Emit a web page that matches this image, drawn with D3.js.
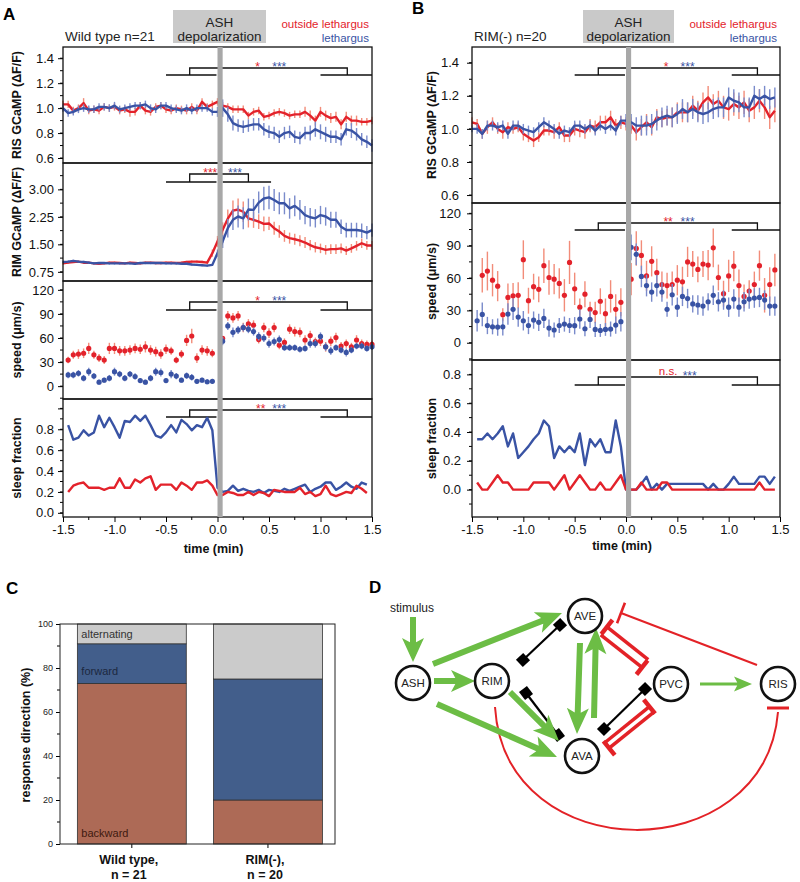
<!DOCTYPE html>
<html><head><meta charset="utf-8">
<script src="https://cdn.jsdelivr.net/npm/d3@7"></script>
<style>body{margin:0;background:#fff}svg{display:block}text{font-family:"Liberation Sans",Arial,sans-serif}</style>
</head><body><svg id="c" width="800" height="882"></svg>
<script>
// ---------- time grids ----------
const tLine = d3.range(61).map(i => +(-1.5 + i * 0.05).toFixed(2));
const tPre = d3.range(29).map(i => +(-1.45 + i * 0.05).toFixed(2));
const tPost = d3.range(30).map(i => +(0.05 + i * 0.05).toFixed(2));
const tDots = tPre.concat(tPost);
const tSleep = d3.range(59).map(i => +(-1.45 + i * 0.05).toFixed(2));

// ---------- Panel A data ----------
const A_RIS_red = [1.03,1.03,0.98,1.00,1.04,0.98,0.99,0.98,1.01,1.00,1.01,0.98,0.99,0.97,0.97,1.02,0.98,0.97,1.01,1.02,0.99,0.98,1.00,0.99,0.98,1.01,0.98,1.05,1.01,1.03,1.05,1.02,1.01,0.99,0.99,0.99,0.94,0.97,0.98,0.93,0.94,0.96,0.97,0.96,0.94,0.95,0.95,0.97,0.94,0.90,0.97,0.94,0.92,0.93,0.87,0.93,0.90,0.90,0.89,0.89,0.90];
const A_RIS_red_err = [0.03,0.03,0.03,0.03,0.04,0.03,0.03,0.03,0.03,0.03,0.03,0.03,0.03,0.04,0.03,0.03,0.03,0.03,0.03,0.03,0.03,0.03,0.03,0.03,0.03,0.03,0.03,0.03,0.03,0.03,0.03,0.03,0.03,0.03,0.03,0.03,0.03,0.03,0.03,0.03,0.03,0.03,0.03,0.03,0.03,0.03,0.03,0.04,0.04,0.04,0.04,0.04,0.04,0.04,0.04,0.04,0.04,0.04,0.03,0.03,0.03];
const A_RIS_blue = [1.00,0.96,0.97,0.99,1.00,0.99,0.99,1.01,1.01,1.00,1.02,0.99,1.00,1.01,1.02,1.02,1.03,1.00,0.99,1.02,1.02,1.00,0.99,0.98,1.00,0.98,1.00,1.00,1.00,0.97,0.97,1.00,0.95,0.88,0.86,0.85,0.86,0.87,0.87,0.83,0.81,0.80,0.77,0.80,0.81,0.77,0.76,0.80,0.80,0.83,0.81,0.79,0.77,0.77,0.75,0.83,0.82,0.79,0.75,0.73,0.70];
const A_RIS_blue_err = [0.03,0.03,0.03,0.03,0.03,0.03,0.03,0.03,0.03,0.03,0.03,0.03,0.03,0.03,0.03,0.03,0.03,0.03,0.03,0.03,0.03,0.03,0.03,0.03,0.03,0.03,0.03,0.03,0.03,0.03,0.04,0.07,0.06,0.06,0.05,0.05,0.05,0.05,0.05,0.05,0.05,0.05,0.05,0.05,0.05,0.05,0.05,0.05,0.06,0.06,0.06,0.06,0.05,0.05,0.05,0.05,0.06,0.05,0.05,0.05,0.05];
const A_RIM_red = [0.98,1.00,1.02,1.03,1.00,1.00,0.98,0.97,0.98,1.00,1.00,0.99,0.98,1.00,0.99,0.98,1.00,1.00,0.99,0.99,1.00,1.00,0.99,1.00,1.02,1.03,1.03,1.02,1.00,1.26,1.58,1.90,2.20,2.42,2.45,2.39,2.21,2.17,2.12,2.06,2.07,1.94,1.85,1.73,1.67,1.64,1.60,1.55,1.48,1.42,1.39,1.35,1.37,1.37,1.39,1.33,1.39,1.46,1.53,1.47,1.47];
const A_RIM_red_err = [0.03,0.03,0.03,0.03,0.03,0.03,0.03,0.03,0.03,0.03,0.03,0.03,0.03,0.03,0.03,0.03,0.03,0.03,0.03,0.03,0.03,0.03,0.03,0.03,0.03,0.03,0.03,0.03,0.03,0.10,0.15,0.20,0.25,0.28,0.30,0.28,0.25,0.22,0.20,0.20,0.18,0.18,0.17,0.16,0.15,0.15,0.15,0.15,0.14,0.14,0.13,0.13,0.13,0.13,0.13,0.12,0.12,0.13,0.13,0.12,0.12];
const A_RIM_blue = [1.02,1.03,1.05,1.03,1.02,1.00,0.98,0.99,0.99,0.98,0.98,0.98,0.98,0.98,0.97,0.99,0.99,0.99,0.99,0.99,0.98,0.98,0.98,0.97,0.97,0.95,0.94,0.93,0.92,0.94,1.26,1.58,1.94,2.17,2.26,2.21,2.45,2.44,2.64,2.75,2.78,2.71,2.62,2.62,2.48,2.55,2.44,2.30,2.24,2.21,2.30,2.26,2.17,2.17,1.98,1.89,1.89,1.89,1.87,1.82,1.89];
const A_RIM_blue_err = [0.03,0.03,0.03,0.03,0.03,0.03,0.03,0.03,0.03,0.03,0.03,0.03,0.03,0.03,0.03,0.03,0.03,0.03,0.03,0.03,0.03,0.03,0.03,0.03,0.03,0.03,0.03,0.03,0.03,0.03,0.10,0.18,0.25,0.28,0.30,0.30,0.30,0.30,0.30,0.32,0.32,0.30,0.30,0.30,0.28,0.28,0.27,0.25,0.25,0.25,0.25,0.25,0.22,0.22,0.20,0.20,0.20,0.20,0.20,0.18,0.18];
const A_speed_red = [32.5,39,40,41,47,39,35,32.5,47,47,44,44,45,47,46,49,45,43,40,46,44,32.5,40,57,62.5,35,45,44,41,
  59.5,87.5,85,87.5,73,77.5,76,58,73,66,73,51,54.5,71,68,67,57.5,63,55.5,56,49,56,60.5,50,53,49,57.5,53,52,52];
const A_speed_red_err = [4,5,6,6,7,5,5,5,7,7,6,6,6,6,6,7,6,6,6,6,5,4,5,7,9,6,6,6,5,
  3,6,6,6,6,6,6,5,6,6,6,5,5,6,6,6,6,6,5,6,6,6,6,5,5,5,6,5,5,5];
const A_speed_blue = [14,14,16,10,18,12.5,5,7.5,10,18,15,10,15,12,7,5,10,18,17,7,15,12.5,7.5,13,11,6,7.5,5.5,6,
  56,75,67,70,73,71,68,62,60,53,55.5,58,48,48,48,46,47,53,53,62,49,44,48,45,42,45,50,50,47,49];
const A_speed_blue_err = [4,4,4,4,5,4,3,3,4,5,4,4,4,4,3,3,4,5,5,3,5,4,3,4,4,3,3,3,3,
  5,5,6,5,5,5,5,5,5,5,5,5,4,4,4,4,4,5,5,5,5,5,4,4,5,4,4,4,4,4];
const A_sleep_blue = [0.84,0.70,0.72,0.79,0.74,0.77,0.93,0.82,0.91,0.82,0.72,0.88,0.87,0.93,0.88,0.93,0.84,0.74,0.72,0.77,0.84,0.77,0.89,0.85,0.79,0.84,0.82,0.91,0.79,
  0.24,0.20,0.21,0.26,0.21,0.23,0.21,0.20,0.22,0.19,0.22,0.21,0.20,0.23,0.21,0.23,0.25,0.27,0.20,0.23,0.25,0.29,0.29,0.22,0.25,0.29,0.25,0.23,0.29,0.27];
const A_sleep_red = [0.20,0.26,0.28,0.29,0.24,0.24,0.24,0.22,0.24,0.24,0.33,0.24,0.24,0.32,0.29,0.33,0.35,0.22,0.27,0.27,0.27,0.22,0.29,0.26,0.22,0.29,0.29,0.31,0.26,
  0.17,0.17,0.20,0.19,0.17,0.17,0.20,0.17,0.20,0.19,0.16,0.22,0.21,0.20,0.20,0.20,0.24,0.18,0.20,0.16,0.18,0.26,0.18,0.16,0.18,0.20,0.19,0.26,0.23,0.19];

// ---------- Panel B data ----------
const B_RIS_red = [1.04,1.03,0.97,1.01,1.04,1.00,0.98,1.01,1.00,1.01,0.97,0.95,0.93,0.95,0.99,0.99,0.98,1.01,0.96,0.96,1.00,0.99,0.98,1.02,1.01,1.04,1.04,1.07,1.02,1.04,1.03,
  1.02,0.98,1.01,1.04,1.01,1.07,1.06,1.07,1.07,1.10,1.10,1.10,1.14,1.11,1.16,1.19,1.15,1.17,1.13,1.12,1.15,1.13,1.16,1.11,1.13,1.17,1.13,1.07,1.11,null];
const B_RIS_red_err = [0.03,0.03,0.03,0.04,0.03,0.03,0.04,0.03,0.03,0.03,0.04,0.03,0.04,0.03,0.03,0.03,0.04,0.03,0.04,0.04,0.04,0.04,0.04,0.04,0.04,0.04,0.04,0.04,0.04,0.04,0.04,
  0.05,0.05,0.05,0.05,0.05,0.05,0.05,0.05,0.06,0.06,0.06,0.06,0.06,0.06,0.06,0.07,0.06,0.06,0.07,0.07,0.07,0.07,0.07,0.07,0.07,0.07,0.07,0.07,0.07,0];
const B_RIS_blue = [1.00,1.00,0.97,1.02,1.02,1.01,1.02,0.97,1.02,1.02,1.00,0.99,0.98,1.01,1.04,1.02,1.00,0.97,0.99,0.98,1.02,1.02,1.00,1.02,0.99,1.02,1.00,1.02,0.99,1.05,1.05,
  1.04,1.02,1.02,1.02,1.03,1.05,1.07,1.08,1.07,1.09,1.12,1.10,1.12,1.10,1.09,1.10,1.12,1.13,1.13,1.19,1.17,1.16,1.13,1.13,1.20,1.18,1.20,1.18,1.19,null];
const B_RIS_blue_err = [0.02,0.03,0.03,0.03,0.03,0.03,0.03,0.03,0.03,0.03,0.03,0.03,0.03,0.03,0.03,0.03,0.03,0.03,0.03,0.03,0.03,0.03,0.03,0.03,0.03,0.03,0.03,0.03,0.03,0.03,0.04,
  0.05,0.05,0.06,0.06,0.06,0.06,0.06,0.06,0.06,0.06,0.06,0.06,0.06,0.06,0.06,0.06,0.06,0.06,0.06,0.06,0.07,0.06,0.06,0.06,0.06,0.06,0.06,0.06,0.06,0];
const B_speed_red = [null,62.5,66.5,58,52.5,26,42,43.5,44,77,39,52,49.5,71.5,60.5,59,55,44,74.5,50,33,45,31,28,38.5,27,43,31,37.5,
  59,87.5,81,62,75.5,65,54,53,54,58,56.5,75,73,68,73,72,88,60.5,45.5,62,71,53,43,48,54,71.5,44,54,67.5,null];
const B_speed_red_err = [0,16,18,15,14,6,13,12,12,18,12,12,12,16,16,14,14,15,20,15,8,12,7,10,12,14,15,14,13,
  15,16,14,14,14,13,12,12,12,14,14,14,12,12,12,14,18,12,12,15,14,15,11,10,12,14,16,16,15,0];
const B_speed_blue = [20.4,26.3,16,14.8,14.5,14.8,26.6,31,23.8,20.4,16,21,18.9,22.6,13.6,11.8,16,17.3,16,15.8,22,13,21.6,12.4,11.4,12.4,12.7,16.4,19.5,
  88.5,82,61.5,53,47,53,47,31,44.5,33,43,41,36,35,34,38,44,38,39.6,33,40.5,33,38,40.5,41.4,42,39.6,34,34,null];
const B_speed_blue_err = [10,11,8,7,8,8,10,10,9,9,8,8,8,9,8,7,7,7,7,8,9,7,8,7,6,6,7,8,9,
  12,10,10,10,9,10,9,7,10,9,9,9,8,9,9,8,9,9,9,9,9,9,9,9,9,9,9,9,9,0];
const B_sleep_blue = [0.35,0.35,0.39,0.35,0.39,0.44,0.30,0.39,0.22,0.26,0.30,0.35,0.39,0.48,0.44,0.22,0.30,0.26,0.30,0.26,0.39,0.17,0.35,0.30,0.35,0.26,0.26,0.48,0.30,
  0.00,0.00,0.00,0.04,0.09,0.00,0.04,0.00,0.04,0.04,0.04,0.04,0.04,0.04,0.04,0.04,0.00,0.04,0.00,0.00,0.04,0.09,0.04,0.04,0.04,0.04,0.09,0.09,0.04,0.09];
const B_sleep_red = [0.05,0,0,0.05,0.10,0.05,0.05,0,0,0,0,0.05,0.05,0.05,0.05,0,0.05,0.10,0,0.05,0.10,0.05,0,0,0.05,0,0,0.05,0.10,
  0,0,0,0.05,0,0,0,0.05,0.05,0,0,0,0,0,0,0,0,0,0,0,0,0,0,0,0,0,0.05,0,0,0];

// ---------- Panel C data ----------
const cCategories = ["Wild type", "RIM(-)"];
const cLabels = [["Wild type,", "n = 21"], ["RIM(-),", "n = 20"]];
const cBackward = [73, 20];
const cForward = [18, 55];
const cAlternating = [9, 25];
const cYTicks = [0, 20, 40, 60, 80, 100];

// ---------- Panel D (network) ----------
const dNodes = ["ASH", "RIM", "AVE", "AVA", "PVC", "RIS"];

// ---------- colours ----------
const RED = "#e3222b", BLUE = "#3953a4", RED_E = "#f28c79", BLUE_E = "#7a8bcb";
const GREEN = "#6cbd45", INH = "#e32227";

const svg = d3.select("#c");
const xA = d3.scaleLinear().domain([-1.5, 1.5]).range([63, 372]);
const xB = d3.scaleLinear().domain([-1.5, 1.5]).range([472, 780]);

function panel(p) {
  const x = p.x, X0 = x.range()[0], X1 = x.range()[1];
  const y = d3.scaleLinear().domain(p.domain).range([p.y1, p.y0]);
  const g = svg.append("g");
  const lo = p.domain[0], hi = p.domain[1];
  const minors = d3.range(Math.ceil(lo / p.minor - 1e-6), Math.floor(hi / p.minor + 1e-6) + 1).map(k => k * p.minor);
  g.selectAll(null).data(minors).join("line")
    .attr("x1", X0 - 3).attr("x2", X0).attr("y1", d => y(d)).attr("y2", d => y(d))
    .attr("stroke", "#000").attr("stroke-width", 1);
  const ax = g.append("g").attr("transform", `translate(${X0},0)`)
    .call(d3.axisLeft(y).tickValues(p.major).tickSize(5).tickPadding(p.pad || 4).tickFormat(p.fmt));
  ax.select(".domain").remove();
  ax.attr("font-family", null).attr("font-size", null);
  ax.selectAll("text").style("font-size", "13px").attr("fill", "#111");
  ax.selectAll("line").attr("stroke-width", 1);
  g.append("text").attr("transform", `translate(${p.labX},${(p.y0 + p.y1) / 2}) rotate(-90)`)
    .attr("text-anchor", "middle").style("font-size", "12.5px").style("font-weight", "bold").attr("fill", "#111").text(p.label);
  const plot = g.append("g");
  if (p.brk) {
    const b = p.brk, yt = p.y0 + b.top, yl = p.y0 + b.low;
    const path = `M${x(b.l[0])},${yl}H${x(b.l[1])}M${x(b.l[2])},${yl}V${yt}H${x(b.r[2])}V${yl}M${x(b.r[0])},${yl}H${x(b.r[1])}`;
    plot.append("path").attr("d", path).attr("fill", "none").attr("stroke", "#111").attr("stroke-width", 1.3);
    b.stars.forEach(s => {
      plot.append("text").attr("x", x(s.t)).attr("y", s.ns ? yt - 2 : yt + 2.5).attr("text-anchor", "middle")
        .style("font-size", s.ns ? "11.5px" : "12px").attr("fill", s.c).text(s.txt);
    });
  }
  p.series.forEach(s => {
    const pts = s.t.map((t, i) => ({ t, v: s.v[i], e: s.e ? s.e[i] : 0 })).filter(d => d.v != null);
    if (s.e) {
      plot.selectAll(null).data(pts.filter(d => d.e > 0)).join("line")
        .attr("x1", d => x(d.t)).attr("x2", d => x(d.t))
        .attr("y1", d => y(d.v - d.e)).attr("y2", d => y(d.v + d.e))
        .attr("stroke", s.ec).attr("stroke-width", 1.4);
    }
    if (s.kind === "line") {
      plot.append("path").datum(s.t.map((t, i) => [t, s.v[i]]))
        .attr("d", d3.line().defined(d => d[1] != null).x(d => x(d[0])).y(d => y(d[1])))
        .attr("fill", "none").attr("stroke", s.c).attr("stroke-width", 2.4).attr("stroke-linejoin", "round");
    } else {
      plot.selectAll(null).data(pts).join("circle")
        .attr("cx", d => x(d.t)).attr("cy", d => y(d.v)).attr("r", 2.6).attr("fill", s.c);
    }
  });
  g.append("rect").attr("x", X0).attr("y", p.y0).attr("width", X1 - X0).attr("height", p.y1 - p.y0)
    .attr("fill", "none").attr("stroke", "#111").attr("stroke-width", 1.3);
}

function column(x, spec) {
  spec.header(x);
  spec.panels.forEach(p => panel(Object.assign({ x }, p)));
  svg.append("rect").attr("x", x(0)).attr("y", 47).attr("width", x(0.05) - x(0)).attr("height", 517 - 47)
    .attr("fill", "#a8a8a8");
  const minorT = [-1.25, -0.75, -0.25, 0.25, 0.75, 1.25];
  svg.append("g").selectAll(null).data(minorT).join("line")
    .attr("x1", d => x(d)).attr("x2", d => x(d)).attr("y1", 517).attr("y2", 520).attr("stroke", "#000");
  const ax = svg.append("g").attr("transform", "translate(0,517)")
    .call(d3.axisBottom(x).tickValues([-1.5, -1, -0.5, 0, 0.5, 1, 1.5]).tickSize(5).tickPadding(3).tickFormat(d => d.toFixed(1)));
  ax.select(".domain").remove();
  ax.attr("font-family", null).attr("font-size", null);
  ax.selectAll("text").style("font-size", "13px").attr("fill", "#111");
  svg.append("text").attr("x", x(0) - 4).attr("y", spec.xlabY).attr("text-anchor", "middle")
    .style("font-size", "12.5px").style("font-weight", "bold").attr("fill", "#111").text("time (min)");
}

function header(letter, lx, ly, title, x, boxL, boxR) {
  svg.append("text").attr("x", lx).attr("y", ly).style("font-size", "17px").style("font-weight", "bold").text(letter);
  svg.append("rect").attr("x", boxL).attr("y", 10).attr("width", boxR - boxL).attr("height", 33).attr("fill", "#c9c9c9");
  svg.append("text").attr("x", (boxL + boxR) / 2).attr("y", 27).attr("text-anchor", "middle").style("font-size", "13.5px").attr("fill", "#222").text("ASH");
  svg.append("text").attr("x", (boxL + boxR) / 2).attr("y", 40.5).attr("text-anchor", "middle").style("font-size", "13.5px").attr("fill", "#222").text("depolarization");
  svg.append("text").attr("x", x.range()[0] + 2).attr("y", 40.5).style("font-size", "13.5px").attr("fill", "#222").text(title);
  svg.append("text").attr("x", x.range()[1] - 3).attr("y", 28).attr("text-anchor", "end").style("font-size", "11.5px").attr("fill", RED).text("outside lethargus");
  svg.append("text").attr("x", x.range()[1] - 3).attr("y", 41.5).attr("text-anchor", "end").style("font-size", "11.5px").attr("fill", BLUE).text("lethargus");
}

const f1 = d => d.toFixed(1), f2 = d => d.toFixed(2), f0 = d => d.toFixed(0);
const starsStd = (r) => [{ t: 0.39, txt: r, c: RED }, { t: 0.6, txt: "***", c: BLUE }];

column(xA, {
  header: x => header("A", 3, 20, "Wild type n=21", x, 173, 266),
  xlabY: 553,
  panels: [
    { y0: 47, y1: 163, domain: [0.56, 1.49], major: [0.6, 0.8, 1.0, 1.2, 1.4], minor: 0.1, fmt: f1, label: "RIS GCaMP (ΔF/F)", labX: 21,
      brk: { top: 21, low: 28, l: [-0.5, -0.01, -0.27], r: [1.0, 1.5, 1.26], stars: starsStd("*") },
      series: [
        { kind: "line", t: tLine, v: A_RIS_red, e: A_RIS_red_err, c: RED, ec: RED_E },
        { kind: "line", t: tLine, v: A_RIS_blue, e: A_RIS_blue_err, c: BLUE, ec: BLUE_E }] },
    { y0: 163, y1: 281, domain: [0.5, 3.72], major: [0.75, 1.5, 2.25, 3.0], minor: 0.375, fmt: f2, label: "RIM GCaMP (ΔF/F)", labX: 21,
      brk: { top: 11, low: 19, l: [-0.5, -0.01, -0.27], r: [0.05, 0.52, 0.3], stars: [{ t: -0.07, txt: "***", c: RED }, { t: 0.17, txt: "***", c: BLUE }] },
      series: [
        { kind: "line", t: tLine, v: A_RIM_red, e: A_RIM_red_err, c: RED, ec: RED_E },
        { kind: "line", t: tLine, v: A_RIM_blue, e: A_RIM_blue_err, c: BLUE, ec: BLUE_E }] },
    { y0: 281, y1: 399, domain: [-16, 131], major: [0, 30, 60, 90, 120], minor: 15, fmt: f0, label: "speed (μm/s)", labX: 21,
      brk: { top: 21, low: 29, l: [-0.5, -0.01, -0.27], r: [1.0, 1.5, 1.26], stars: starsStd("*") },
      series: [
        { kind: "dot", t: tDots, v: A_speed_red, e: A_speed_red_err, c: RED, ec: RED_E },
        { kind: "dot", t: tDots, v: A_speed_blue, e: A_speed_blue_err, c: BLUE, ec: BLUE_E }] },
    { y0: 399, y1: 517, domain: [-0.04, 1.09], major: [0, 0.2, 0.4, 0.6, 0.8, 1.0], minor: 0.1, fmt: d => d > 0.9 ? "" : d.toFixed(1), label: "sleep fraction", labX: 21,
      brk: { top: 11, low: 18, l: [-0.5, -0.01, -0.27], r: [1.0, 1.5, 1.26], stars: [{ t: 0.42, txt: "**", c: RED }, { t: 0.6, txt: "***", c: BLUE }] },
      series: [
        { kind: "line", t: tSleep, v: A_sleep_blue, c: BLUE },
        { kind: "line", t: tSleep, v: A_sleep_red, c: RED }] }
  ]
});

column(xB, {
  header: x => header("B", 412, 14, "RIM(-) n=20", x, 583, 674),
  xlabY: 550,
  panels: [
    { y0: 47, y1: 203, domain: [0.552, 1.495], major: [0.6, 0.8, 1.0, 1.2, 1.4], minor: 0.1, fmt: f1, label: "RIS GCaMP (ΔF/F)", labX: 436, pad: 8,
      brk: { top: 21, low: 28, l: [-0.5, -0.01, -0.27], r: [1.03, 1.5, 1.28], stars: starsStd("*") },
      series: [
        { kind: "line", t: tLine, v: B_RIS_red, e: B_RIS_red_err, c: RED, ec: RED_E },
        { kind: "line", t: tLine, v: B_RIS_blue, e: B_RIS_blue_err, c: BLUE, ec: BLUE_E }] },
    { y0: 203, y1: 360, domain: [-16, 129.6], major: [0, 30, 60, 90, 120], minor: 15, fmt: f0, label: "speed (μm/s)", labX: 436, pad: 6,
      brk: { top: 20, low: 27, l: [-0.5, -0.01, -0.27], r: [1.03, 1.5, 1.28], stars: [{ t: 0.41, txt: "**", c: RED }, { t: 0.6, txt: "***", c: BLUE }] },
      series: [
        { kind: "dot", t: tDots, v: B_speed_red, e: B_speed_red_err, c: RED, ec: RED_E },
        { kind: "dot", t: tDots, v: B_speed_blue, e: B_speed_blue_err, c: BLUE, ec: BLUE_E }] },
    { y0: 360, y1: 517, domain: [-0.19, 0.9], major: [0, 0.2, 0.4, 0.6, 0.8], minor: 0.1, fmt: f1, label: "sleep fraction", labX: 436, pad: 6,
      brk: { top: 17, low: 25, l: [-0.5, -0.01, -0.27], r: [1.03, 1.5, 1.28], stars: [{ t: 0.41, txt: "n.s.", c: RED, ns: true }, { t: 0.62, txt: "***", c: BLUE }] },
      series: [
        { kind: "line", t: tSleep, v: B_sleep_blue, c: BLUE },
        { kind: "line", t: tSleep, v: B_sleep_red, c: RED }] }
  ]
});

// ---------- Panel C ----------
(function () {
  svg.append("text").attr("x", 6).attr("y", 594).style("font-size", "17px").style("font-weight", "bold").text("C");
  const x = d3.scaleBand().domain(cCategories).range([60, 335]).paddingInner(0.2).paddingOuter(0.11).align(0.58);
  const y = d3.scaleLinear().domain([0, 100]).range([844, 624]);
  const rows = cCategories.map((c, i) => ({ cat: c, backward: cBackward[i], forward: cForward[i], alternating: cAlternating[i] }));
  const keys = ["backward", "forward", "alternating"];
  const col = { backward: "#ad6a56", forward: "#425e8b", alternating: "#cbcbcb" };
  const stack = d3.stack().keys(keys)(rows);
  const g = svg.append("g");
  stack.forEach(layer => {
    g.selectAll(null).data(layer).join("rect")
      .attr("x", d => x(d.data.cat)).attr("width", x.bandwidth())
      .attr("y", d => y(d[1])).attr("height", d => y(d[0]) - y(d[1]))
      .attr("fill", col[layer.key]).attr("stroke", "#333").attr("stroke-width", 0.8);
  });
  const bx = x(cCategories[0]) + 4;
  g.append("text").attr("x", bx).attr("y", y(100) + 14).style("font-size", "11px").attr("fill", "#333").text("alternating");
  g.append("text").attr("x", bx).attr("y", y(cBackward[0]) - 8).style("font-size", "11px").attr("fill", "#1c2840").text("forward");
  g.append("text").attr("x", bx).attr("y", y(0) - 7).style("font-size", "11px").attr("fill", "#40190f").text("backward");
  g.selectAll(null).data(d3.range(10, 100, 20)).join("line")
    .attr("x1", 57).attr("x2", 60).attr("y1", d => y(d)).attr("y2", d => y(d)).attr("stroke", "#000");
  const ay = g.append("g").attr("transform", "translate(60,0)").call(d3.axisLeft(y).tickValues(cYTicks).tickSize(4).tickPadding(3));
  ay.select(".domain").remove();
  ay.attr("font-family", null).attr("font-size", null);
  ay.selectAll("text").style("font-size", "9px").attr("fill", "#222");
  const ax = g.append("g").attr("transform", "translate(0,844)").call(d3.axisBottom(x).tickSize(4).tickFormat(""));
  ax.select(".domain").remove();
  g.append("rect").attr("x", 60).attr("y", 624).attr("width", 275).attr("height", 220).attr("fill", "none").attr("stroke", "#222").attr("stroke-width", 1);
  cCategories.forEach((c, i) => {
    const cx = x(c) + x.bandwidth() / 2 - 3;
    g.append("text").attr("x", cx).attr("y", 864).attr("text-anchor", "middle").style("font-size", "12.5px").style("font-weight", "bold").attr("fill", "#111").text(cLabels[i][0]);
    g.append("text").attr("x", cx).attr("y", 879).attr("text-anchor", "middle").style("font-size", "12.5px").style("font-weight", "bold").attr("fill", "#111").text(cLabels[i][1]);
  });
  g.append("text").attr("transform", "translate(30,735) rotate(-90)").attr("text-anchor", "middle")
    .style("font-size", "12.5px").style("font-weight", "bold").attr("fill", "#111").text("response direction (%)");
})();

// ---------- Panel D ----------
(function () {
  const pos = { ASH: [413, 683], RIM: [492, 681], AVE: [585, 616], AVA: [582, 756], PVC: [671, 684], RIS: [778, 684] };
  const g = svg.append("g");
  svg.append("text").attr("x", 369).attr("y", 593).style("font-size", "17px").style("font-weight", "bold").text("D");
  g.append("text").attr("x", 390).attr("y", 612).style("font-size", "12px").attr("fill", "#222").text("stimulus");

  function arrow(x1, y1, x2, y2, w, hl, hw) {
    const dx = x2 - x1, dy = y2 - y1, L = Math.hypot(dx, dy), ux = dx / L, uy = dy / L, px = -uy, py = ux;
    const bx = x2 - ux * hl, by = y2 - uy * hl, nx = x2 - ux * hl * 0.82, ny = y2 - uy * hl * 0.82;
    const pts = [[x1 + px * w / 2, y1 + py * w / 2], [nx + px * w / 2, ny + py * w / 2], [bx + px * hw / 2, by + py * hw / 2], [x2, y2],
      [bx - px * hw / 2, by - py * hw / 2], [nx - px * w / 2, ny - py * w / 2], [x1 - px * w / 2, y1 - py * w / 2]];
    g.append("path").attr("d", d3.line()(pts) + "Z").attr("fill", GREEN);
  }
  function tee(x1, y1, x2, y2, w, bl, bw) {
    const dx = x2 - x1, dy = y2 - y1, L = Math.hypot(dx, dy), px = -dy / L, py = dx / L;
    g.append("line").attr("x1", x1).attr("y1", y1).attr("x2", x2).attr("y2", y2).attr("stroke", INH).attr("stroke-width", w);
    g.append("line").attr("x1", x2 + px * bl / 2).attr("y1", y2 + py * bl / 2).attr("x2", x2 - px * bl / 2).attr("y2", y2 - py * bl / 2)
      .attr("stroke", INH).attr("stroke-width", bw);
  }
  function gap(x1, y1, x2, y2) {
    const ang = Math.atan2(y2 - y1, x2 - x1) * 180 / Math.PI;
    g.append("line").attr("x1", x1).attr("y1", y1).attr("x2", x2).attr("y2", y2).attr("stroke", "#000").attr("stroke-width", 2.2);
    [[x1, y1], [x2, y2]].forEach(([x, y]) => g.append("rect").attr("x", -5).attr("y", -5).attr("width", 10).attr("height", 10)
      .attr("transform", `translate(${x},${y}) rotate(${ang})`).attr("fill", "#000"));
  }
  function pair(a, b, off, s0, s1) {
    const [ax, ay] = pos[a], [bx, by] = pos[b];
    const L = Math.hypot(bx - ax, by - ay), ux = (bx - ax) / L, uy = (by - ay) / L, px = -uy, py = ux;
    return [ax + ux * s0 + px * off, ay + uy * s0 + py * off, bx - ux * s1 + px * off, by - uy * s1 + py * off];
  }
  g.append("path").attr("d", "M495,707 C505,870 765,870 778,712").attr("fill", "none").attr("stroke", INH).attr("stroke-width", 2);
  g.append("line").attr("x1", 767).attr("x2", 789).attr("y1", 708).attr("y2", 708).attr("stroke", INH).attr("stroke-width", 3);
  tee(757, 665, 621, 613, 2, 22, 2.6);
  let s = pair("AVE", "PVC", -5, 24, 33); tee(s[2], s[3], s[0], s[1], 3.5, 18, 4.5);
  s = pair("AVE", "PVC", 5, 24, 33); tee(s[0], s[1], s[2], s[3], 3.5, 18, 4.5);
  s = pair("AVA", "PVC", 4, 26, 31); tee(s[0], s[1], s[2], s[3], 3.5, 18, 4.5);
  s = pair("AVA", "PVC", 11, 26, 31); tee(s[2], s[3], s[0], s[1], 3.5, 18, 4.5);
  gap(523, 660, 560, 625);
  gap(526, 693, 558, 735);
  gap(604, 729, 645, 689);
  arrow(413, 617, 413, 662, 6, 24, 22);
  arrow(433, 664, 562, 613, 6, 26, 22);
  arrow(434, 681, 475, 681, 6, 24, 22);
  arrow(437, 704, 557, 757, 6, 26, 22);
  arrow(510, 692, 559, 741, 6, 26, 22);
  arrow(580, 643, 577, 734, 6, 26, 22);
  arrow(594, 718, 596, 628, 6, 26, 22);
  arrow(700, 684, 752, 684, 3, 18, 15);
  dNodes.forEach(n => {
    const [x, y] = pos[n];
    g.append("circle").attr("cx", x).attr("cy", y).attr("r", 17).attr("fill", "#fff").attr("stroke", "#111").attr("stroke-width", 2.6);
    g.append("text").attr("x", x).attr("y", y + 4).attr("text-anchor", "middle").style("font-size", "11.5px").attr("fill", "#222").text(n);
  });
})();
</script></body></html>
